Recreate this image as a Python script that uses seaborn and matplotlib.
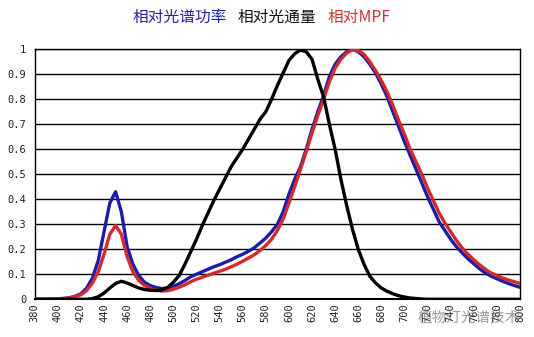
import numpy as np
import pandas as pd
import matplotlib
matplotlib.use("Agg")
import matplotlib.pyplot as plt
import seaborn as sns

# Wavelength grid (nm) and the three normalised curves
wavelength = list(range(380, 805, 5))

spectral_power = [
    0.0, 0.0, 0.0, 0.0, 0.002, 0.003, 0.006, 0.012, 0.022, 0.045,   # 380-425
    0.085, 0.155, 0.27, 0.385, 0.43, 0.35, 0.21, 0.14, 0.095, 0.068,  # 430-475
    0.055, 0.047, 0.043, 0.045, 0.052, 0.062, 0.075, 0.09, 0.10, 0.11,  # 480-525
    0.12, 0.13, 0.138, 0.148, 0.158, 0.17, 0.18, 0.192, 0.206, 0.225,   # 530-575
    0.245, 0.27, 0.30, 0.35, 0.42, 0.48, 0.53, 0.60, 0.68, 0.75,        # 580-625
    0.815, 0.89, 0.94, 0.97, 0.99, 1.0, 0.99, 0.97, 0.94, 0.905,        # 630-675
    0.86, 0.81, 0.75, 0.69, 0.63, 0.575, 0.52, 0.465, 0.41, 0.36,       # 680-725
    0.31, 0.275, 0.24, 0.21, 0.185, 0.162, 0.142, 0.122, 0.105, 0.092,  # 730-775
    0.082, 0.072, 0.063, 0.055, 0.048,                                   # 780-800
]

luminous_flux = [
    0.0, 0.0, 0.0, 0.0, 0.0, 0.0, 0.0, 0.0, 0.0, 0.0,                   # 380-425
    0.003, 0.01, 0.025, 0.045, 0.063, 0.072, 0.065, 0.055, 0.045, 0.039,  # 430-475
    0.036, 0.035, 0.037, 0.047, 0.068, 0.095, 0.14, 0.19, 0.24, 0.295,  # 480-525
    0.345, 0.395, 0.44, 0.485, 0.53, 0.565, 0.60, 0.64, 0.68, 0.72,     # 530-575
    0.75, 0.80, 0.855, 0.905, 0.955, 0.982, 0.997, 0.99, 0.96, 0.88,    # 580-625
    0.81, 0.70, 0.60, 0.48, 0.375, 0.28, 0.20, 0.14, 0.092, 0.065,      # 630-675
    0.045, 0.032, 0.022, 0.014, 0.009, 0.005, 0.003, 0.001, 0.0, 0.0,   # 680-725
    0.0, 0.0, 0.0, 0.0, 0.0, 0.0, 0.0, 0.0, 0.0, 0.0,                   # 730-775
    0.0, 0.0, 0.0, 0.0, 0.0,                                             # 780-800
]

mpf = [
    0.0, 0.0, 0.0, 0.0, 0.002, 0.003, 0.005, 0.01, 0.018, 0.035,        # 380-425
    0.065, 0.11, 0.18, 0.26, 0.295, 0.26, 0.17, 0.11, 0.075, 0.055,     # 430-475
    0.043, 0.036, 0.033, 0.034, 0.04, 0.048, 0.058, 0.07, 0.08, 0.088,  # 480-525
    0.096, 0.104, 0.112, 0.12, 0.13, 0.14, 0.152, 0.165, 0.178, 0.195,  # 530-575
    0.215, 0.24, 0.275, 0.32, 0.385, 0.45, 0.52, 0.59, 0.665, 0.735,    # 580-625
    0.80, 0.87, 0.925, 0.96, 0.985, 0.998, 0.995, 0.98, 0.95, 0.915,    # 630-675
    0.875, 0.83, 0.775, 0.715, 0.66, 0.60, 0.55, 0.50, 0.445, 0.395,    # 680-725
    0.345, 0.305, 0.27, 0.235, 0.205, 0.18, 0.158, 0.138, 0.12, 0.105,  # 730-775
    0.095, 0.085, 0.077, 0.07, 0.063,                                    # 780-800
]

series_names = ["相对光谱功率", "相对MPF", "相对光通量"]
series_colors = ["#1c1ca6", "#d42a2e", "#000000"]

x_ticks = list(range(380, 820, 20))
y_ticks = [round(v * 0.1, 1) for v in range(0, 11)]
y_labels = ["0" if v == 0 else ("1" if v == 1 else f"{v:.1f}") for v in y_ticks]

df = pd.concat([
    pd.DataFrame({"wavelength": wavelength, "value": spectral_power, "series": series_names[0]}),
    pd.DataFrame({"wavelength": wavelength, "value": mpf, "series": series_names[1]}),
    pd.DataFrame({"wavelength": wavelength, "value": luminous_flux, "series": series_names[2]}),
])

sns.set_style("white")
plt.rcParams["font.family"] = ["Noto Sans CJK SC", "DejaVu Sans"]

fig = plt.figure(figsize=(5.34, 3.37), dpi=100)
ax = fig.add_axes([0.065, 0.112, 0.9088, 0.7418])

# horizontal grid lines
for v in y_ticks:
    ax.axhline(v, color="black", lw=1.0, zorder=1)

sns.lineplot(
    data=df, x="wavelength", y="value", hue="series",
    hue_order=series_names, palette=series_colors,
    linewidth=2.4, legend=False, ax=ax, zorder=3,
    solid_joinstyle="round", solid_capstyle="round",
)

ax.set_xlim(380, 800)
ax.set_ylim(0, 1)
ax.set_xlabel("")
ax.set_ylabel("")

ax.set_xticks(x_ticks)
ax.set_xticklabels([str(t) for t in x_ticks], rotation=90,
                   fontsize=7.5, family="DejaVu Sans Mono", color="#222222")
ax.set_yticks(y_ticks)
ax.set_yticklabels(y_labels, fontsize=7.5, family="DejaVu Sans Mono", color="#222222")
ax.tick_params(axis="x", direction="in", length=4, width=0.8, pad=3, color="#555555")
ax.tick_params(axis="y", length=0, pad=6)

for side in ["left", "right", "bottom", "top"]:
    ax.spines[side].set_visible(True)
    ax.spines[side].set_color("black")
    ax.spines[side].set_linewidth(1.0)
ax.spines["bottom"].set_linewidth(1.5)

# coloured series titles across the top
title_y = 1 - 17 / 337
fig.text(133 / 534, title_y, "相对光谱功率", color="#22229a", fontsize=11.3,
         ha="left", va="center")
fig.text(238 / 534, title_y, "相对光通量", color="#111111", fontsize=11.3,
         ha="left", va="center")
fig.text(328 / 534, title_y, "相对MPF", color="#d03434", fontsize=11.3,
         ha="left", va="center")

# account mark, bottom right
fig.text(520 / 534, 1 - 318 / 337, "植物灯光谱技术", color="#7a7a7a", alpha=0.75,
         fontsize=10.5, ha="right", va="center")

fig.savefig("out.png", dpi=100)
